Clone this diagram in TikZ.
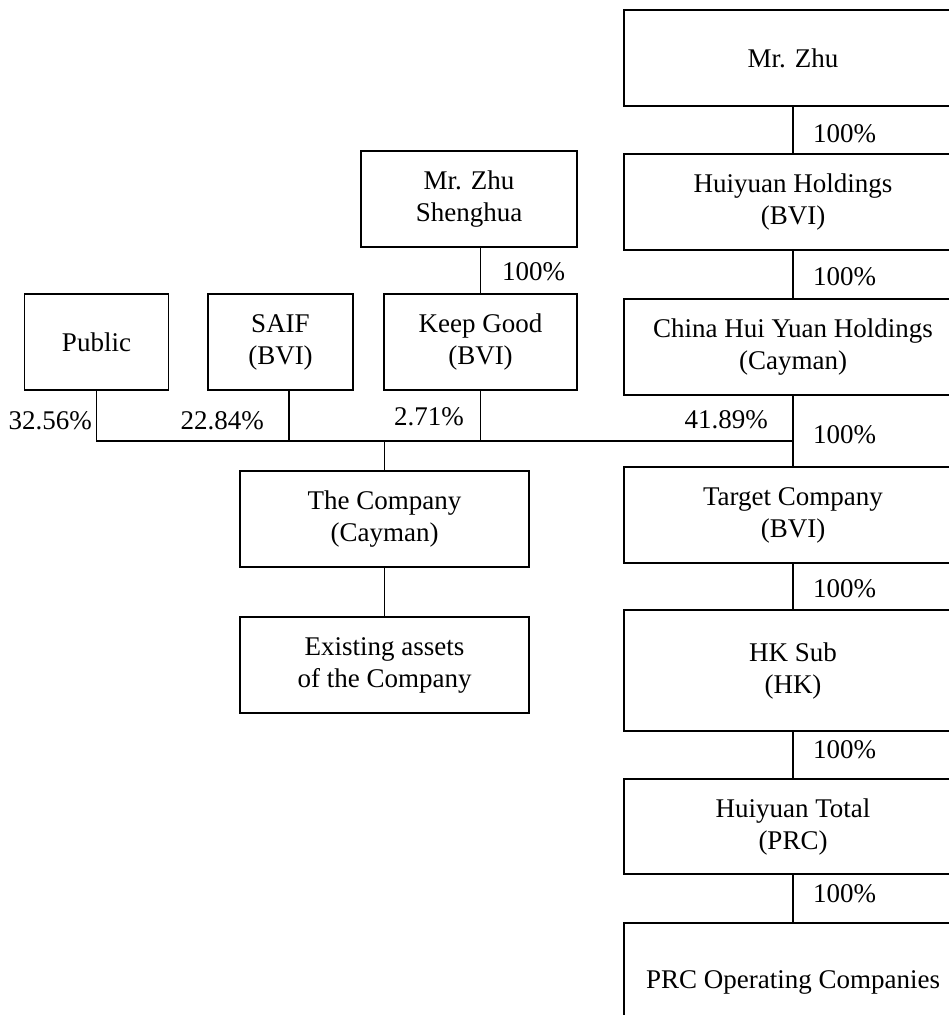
\documentclass[tikz,border=0pt]{standalone}
\usepackage{fontspec}
\setmainfont{Liberation Serif}
\begin{document}
\begin{tikzpicture}[x=1pt,y=-1pt,
  txt/.style={font=\fontsize{27}{32}\selectfont, inner sep=0pt},
  box/.style={txt, draw, line width=1.4pt, align=center, minimum width=#1},
  box/.default=338,
  conn/.style={line width=1.4pt},
  pct/.style={txt, anchor=base west},
  pctr/.style={txt, anchor=base east}]
\useasboundingbox (0,0) rectangle (949,1015);
\clip (0,0) rectangle (949,1015);
% right column
\node[box, minimum height=96] (zhu) at (793,58) {Mr. Zhu};
\node[box, minimum height=96] (hold) at (793,202) {Huiyuan Holdings\\(BVI)};
\node[box, minimum height=96] (china) at (793,347) {China Hui Yuan Holdings\\(Cayman)};
\node[box, minimum height=96] (target) at (793,515) {Target Company\\(BVI)};
\node[box, minimum height=121] (hk) at (793,670.5) {HK Sub\\(HK)};
\node[box, minimum height=95] (total) at (793,826.5) {Huiyuan Total\\(PRC)};
\node[box, minimum height=118] (prc) at (793,982) {PRC Operating Companies};
% left side
\node[box=216, minimum height=96] (zhush) at (469,199) {Mr. Zhu\\Shenghua};
\node[box=144, minimum height=96] (public) at (96.5,342) {Public};
\node[box=145, minimum height=96] (saif) at (280.5,342) {SAIF\\(BVI)};
\node[box=193, minimum height=96] (keep) at (480.5,342) {Keep Good\\(BVI)};
\node[box=289, minimum height=96] (company) at (384.5,519) {The Company\\(Cayman)};
\node[box=289, minimum height=96] (exist) at (384.5,665) {Existing assets\\of the Company};
\coordinate (barR) at (793,441);
% connectors
\draw[conn] (zhu) -- (hold);
\draw[conn] (hold) -- (china);
\draw[conn] (china) -- (target);
\draw[conn] (target) -- (hk);
\draw[conn] (hk) -- (total);
\draw[conn] (total) -- (prc);
\draw[conn] (keep.north |- zhush.south) -- (keep.north);
\draw[conn] (public.south) -- (public.south |- barR) -- (barR);
\draw[conn] ([xshift=8.5pt]saif.south) -- ([xshift=8.5pt]saif.south |- barR);
\draw[conn] (keep.south) -- (keep.south |- barR);
\draw[conn] (company.north |- barR) -- (company.north);
\draw[conn] (company) -- (exist);
% percentages
\node[pct] (p1) at (813,142) {100\%};
\node[pct] (p2) at (813,285) {100\%};
\node[pct] (p3) at (813,443) {100\%};
\node[pct] (p4) at (813,597) {100\%};
\node[pct] (p5) at (813,758) {100\%};
\node[pct] (p6) at (813,902) {100\%};
\node[pct] (p7) at (502,280) {100\%};
\node[pctr] (q1) at (92,429) {32.56\%};
\node[pctr] (q2) at (264,429) {22.84\%};
\node[pctr] (q3) at (464,425) {2.71\%};
\node[pctr] (q4) at (768,428) {41.89\%};
\end{tikzpicture}
\end{document}
